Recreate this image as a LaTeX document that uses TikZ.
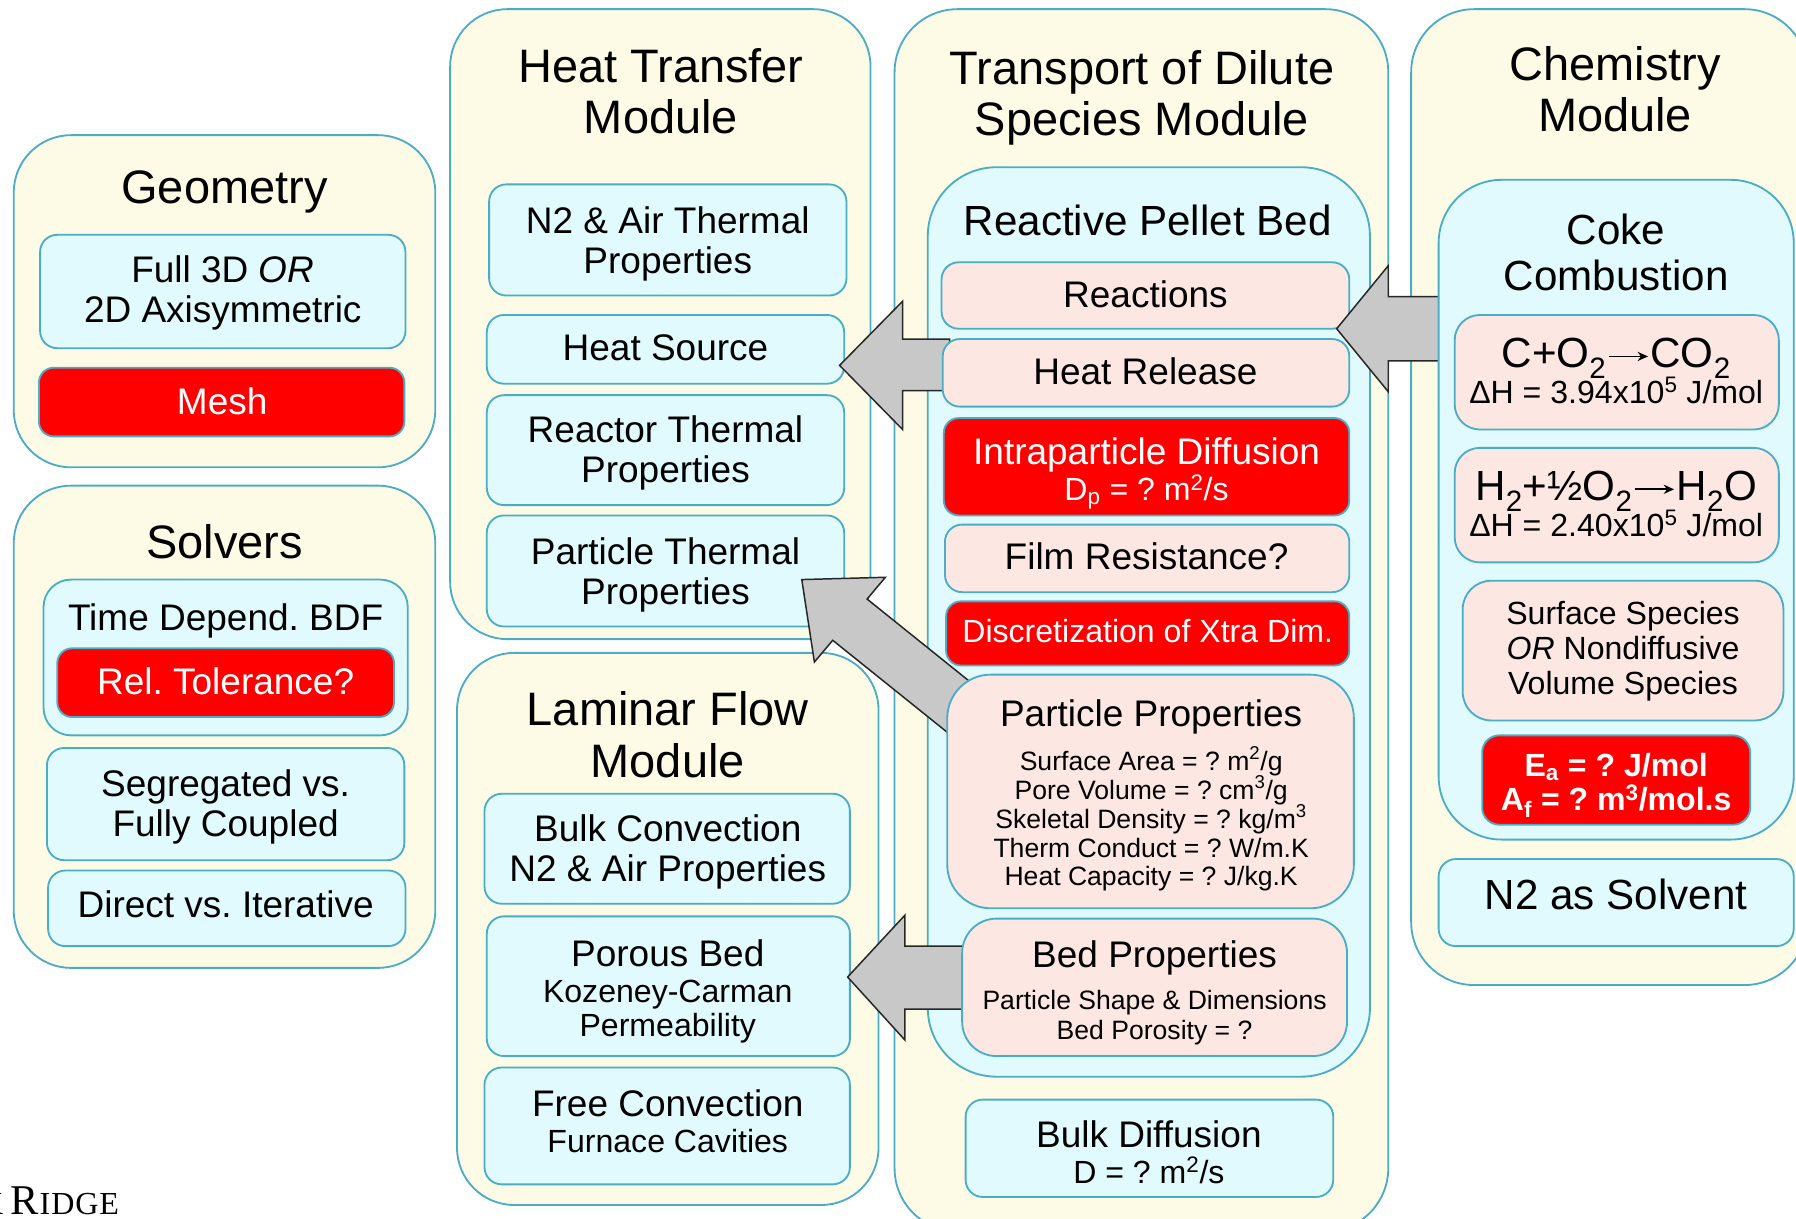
\documentclass[tikz,border=0pt]{standalone}
\usepackage{fontspec}
\setmainfont{Liberation Sans}
\newfontfamily\serifrm{Liberation Serif}
\usetikzlibrary{fit,arrows.meta}
\frenchspacing

\definecolor{modfill}{HTML}{FDFBE6}
\definecolor{edge}{HTML}{4BACC6}
\definecolor{cyanfill}{HTML}{E0FAFD}
\definecolor{pinkfill}{HTML}{FDE7E3}
\definecolor{alert}{HTML}{FF0000}
\definecolor{arrowgray}{HTML}{C8C8C8}

% font sizes
\newcommand\fT{\fontsize{41}{45}\selectfont}
\newcommand\fG{\fontsize{36.8}{40}\selectfont}
\newcommand\fB{\fontsize{32.3}{35}\selectfont}
\newcommand\fS{\fontsize{28}{30.5}\selectfont}
\newcommand\fX{\fontsize{23.2}{25.3}\selectfont}
% long reaction arrow for the equations
\newcommand\yields{\kern1.5pt\tikz[baseline=-10pt]\draw[line width=1.5pt,
  -{Stealth[length=9pt,width=8pt]}] (0pt,0pt) -- (34pt,0pt);\kern1.5pt}

\tikzset{
  box/.style={draw=edge, line width=1.6pt, rectangle, inner sep=0pt},
  module/.style={box, fill=modfill, rounded corners=50pt},
  group/.style={box, fill=cyanfill, rounded corners=52pt},
  item/.style={box, fill=cyanfill, rounded corners=15pt},
  pitem/.style={box, fill=pinkfill, rounded corners=15pt},
  ritem/.style={box, fill=alert, rounded corners=13pt},
  flow/.style={draw=black!85, line width=1.3pt, fill=arrowgray, line join=miter},
  txt/.style={anchor=base, inner sep=0pt, text=black},
  wtxt/.style={anchor=base, inner sep=0pt, text=white},
}

\begin{document}
\begin{tikzpicture}[x=1pt,y=-1pt]
\useasboundingbox (0,0) rectangle (1568,1064);
\clip (0,0) rectangle (1568,1064);
\fill[white] (0,0) rectangle (1568,1064);

% ---------- module frames ----------
\node[module, fit={(12,118) (380,408)}] (geo) {};
\node[module, fit={(12,424) (380,845)}] (sol) {};
\node[module, fit={(393,8) (760,558)}] (ht) {};
\node[module, fit={(399,570) (767,1052)}] (lf) {};
\node[module, rounded corners=55pt, fit={(781,8) (1212,1075)}] (tds) {};
\node[module, rounded corners=55pt, fit={(1232,8) (1578,860)}] (chem) {};

% ---------- Geometry ----------
\node[txt, font=\fT] (geoT) at (196,178) {Geometry};
\node[item, fit={(35,205) (354,304)}] (gfull) {};
\node[txt, font=\fB] (gfull1) at (194.5,246.6) {Full 3D \textit{OR}};
\node[txt, font=\fB] (gfull2) at (194.5,281.6) {2D Axisymmetric};
\node[ritem, fit={(34,321) (353,381)}] (gmesh) {};
\node[wtxt, font=\fB] (gmeshT) at (194,361.6) {Mesh};

% ---------- Solvers ----------
\node[txt, font=\fT] (solT) at (196,487.7) {Solvers};
\node[item, rounded corners=24pt, fit={(38,506) (356,642)}] (stime) {};
\node[txt, font=\fB] (stimeT) at (197,550.6) {Time Depend. BDF};
\node[ritem, fit={(50,566) (344,626)}] (srel) {};
\node[wtxt, font=\fB] (srelT) at (197,606.6) {Rel. Tolerance?};
\node[item, fit={(41,653) (353,751)}] (sseg) {};
\node[txt, font=\fB] (sseg1) at (197,695.6) {Segregated vs.};
\node[txt, font=\fB] (sseg2) at (197,730.6) {Fully Coupled};
\node[item, fit={(42,760) (354,826)}] (sdir) {};
\node[txt, font=\fB] (sdirT) at (197,800.6) {Direct vs. Iterative};

% ---------- Heat Transfer ----------
\node[txt, font=\fT] (htT1) at (577,71.7) {Heat Transfer};
\node[txt, font=\fT] (htT2) at (577,116.7) {Module};
\node[item, fit={(427,161) (739,258)}] (hn2) {};
\node[txt, font=\fB] (hn21) at (583,203.6) {N2 \& Air Thermal};
\node[txt, font=\fB] (hn22) at (583,238.6) {Properties};
\node[item, fit={(425,275) (737,335)}] (hsrc) {};
\node[txt, font=\fB] (hsrcT) at (581,314.6) {Heat Source};
\node[item, fit={(425,345) (737,441)}] (hrea) {};
\node[txt, font=\fB] (hrea1) at (581,386.6) {Reactor Thermal};
\node[txt, font=\fB] (hrea2) at (581,421.6) {Properties};
\node[item, fit={(425,450) (737,547)}] (hpar) {};
\node[txt, font=\fB] (hpar1) at (581,492.6) {Particle Thermal};
\node[txt, font=\fB] (hpar2) at (581,527.6) {Properties};

% ---------- Laminar Flow ----------
\node[txt, font=\fT] (lfT1) at (583,633.7) {Laminar Flow};
\node[txt, font=\fT] (lfT2) at (583,678.7) {Module};
\node[item, fit={(423,693) (742,789)}] (lbulk) {};
\node[txt, font=\fB] (lbulk1) at (583,734.6) {Bulk Convection};
\node[txt, font=\fB] (lbulk2) at (583,769.6) {N2 \& Air Properties};
\node[item, fit={(425,800) (742,922)}] (lpor) {};
\node[txt, font=\fB] (lpor1) at (583,843.6) {Porous Bed};
\node[txt, font=\fS] (lpor2) at (583,875) {Kozeney-Carman};
\node[txt, font=\fS] (lpor3) at (583,905) {Permeability};
\node[item, fit={(423,932) (742,1034)}] (lfree) {};
\node[txt, font=\fB] (lfree1) at (583,974.6) {Free Convection};
\node[txt, font=\fS] (lfree2) at (583,1006) {Furnace Cavities};

% ---------- Transport of Dilute Species ----------
\node[txt, font=\fT] (tdsT1) at (997,73.7) {Transport of Dilute};
\node[txt, font=\fT] (tdsT2) at (997,118.7) {Species Module};
\node[group, rounded corners=60pt, fit={(810,146) (1196,940)}] (rpb) {};
\node[txt, font=\fG] (rpbT) at (1002,205.2) {Reactive Pellet Bed};

% ---------- Chemistry frame ----------
\node[txt, font=\fT] (chemT1) at (1410,70.7) {Chemistry};
\node[txt, font=\fT] (chemT2) at (1410,114.7) {Module};

% ---------- coupling arrows into Heat Transfer and Laminar Flow ----------
\path[flow] (733,319) -- (788,263) -- (788,296) -- (829,296) -- (829,341)
  -- (788,341) -- (788,375) -- cycle;
\path[flow] (740,853) -- (790,799) -- (790,826) -- (846,826) -- (846,881)
  -- (790,881) -- (790,908) -- cycle;
\path[flow] (700,506) -- (773,504) -- (757,523) -- (874,617) -- (844,653)
  -- (727,559) -- (711,578) -- cycle;

% ---------- Reactive Pellet Bed contents ----------
\node[pitem, fit={(822,229) (1178,287)}] (treac) {};
\node[txt, font=\fB] (treacT) at (1000,268.6) {Reactions};
\node[pitem, fit={(823,296) (1178,355)}] (theat) {};
\node[txt, font=\fB] (theatT) at (1000,335.6) {Heat Release};
\node[ritem, fit={(824,365) (1178,450)}] (tintra) {};
\node[wtxt, font=\fB] (tintra1) at (1001,405.6) {Intraparticle Diffusion};
\node[wtxt, font=\fS] (tintra2) at (1001,437) {D\textsubscript{p} = ? m\textsuperscript{2}/s};
\node[pitem, fit={(825,458) (1178,517)}] (tfilm) {};
\node[txt, font=\fB] (tfilmT) at (1001,497.6) {Film Resistance?};
\node[ritem, fit={(826,525) (1178,581)}] (tdisc) {};
\node[wtxt, font=\fS] (tdiscT) at (1002,561) {Discretization of Xtra Dim.};
\node[pitem, rounded corners=38pt, fit={(827,589) (1182,793)}] (tpart) {};
\node[txt, font=\fB] (tpartT) at (1005,634.6) {Particle Properties};
\node[txt, font=\fX] (tpart1) at (1005,672.3) {Surface Area = ? m\textsuperscript{2}/g};
\node[txt, font=\fX] (tpart2) at (1005,697.6) {Pore Volume = ? cm\textsuperscript{3}/g};
\node[txt, font=\fX] (tpart3) at (1005,722.9) {Skeletal Density = ? kg/m\textsuperscript{3}};
\node[txt, font=\fX] (tpart4) at (1005,748.2) {Therm Conduct = ? W/m.K};
\node[txt, font=\fX] (tpart5) at (1005,773.5) {Heat Capacity = ? J/kg.K};
\node[pitem, rounded corners=30pt, fit={(840,802) (1176,922)}] (tbed) {};
\node[txt, font=\fB] (tbedT) at (1008,844.6) {Bed Properties};
\node[txt, font=\fX] (tbed1) at (1008,881.3) {Particle Shape \& Dimensions};
\node[txt, font=\fX] (tbed2) at (1008,907.3) {Bed Porosity = ?};
\node[item, fit={(843,960) (1164,1045)}] (tbulk) {};
\node[txt, font=\fB] (tbulk1) at (1003,1001.6) {Bulk Diffusion};
\node[txt, font=\fS] (tbulk2) at (1003,1033) {D = ? m\textsuperscript{2}/s};

% ---------- coupling arrow from Chemistry ----------
\path[flow] (1167,287) -- (1212,232) -- (1212,259) -- (1263,259) -- (1263,315)
  -- (1212,315) -- (1212,342) -- cycle;

% ---------- Chemistry contents ----------
\node[group, rounded corners=55pt, fit={(1256,157) (1566,733)}] (coke) {};
\node[txt, font=\fG] (cokeT1) at (1411,213.2) {Coke};
\node[txt, font=\fG] (cokeT2) at (1411,253.2) {Combustion};
\node[pitem, rounded corners=22pt, fit={(1270,275) (1553,375)}] (cco) {};
\node[txt, font=\fG] (cco1) at (1411,321.2) {C+O\textsubscript{2}\yields CO\textsubscript{2}};
\node[txt, font=\fS] (cco2) at (1411,352) {ΔH = 3.94x10\textsuperscript{5} J/mol};
\node[pitem, rounded corners=22pt, fit={(1270,391) (1553,491)}] (ch2) {};
\node[txt, font=\fG] (ch21) at (1411,437.2) {H\textsubscript{2}+½O\textsubscript{2}\yields H\textsubscript{2}O};
\node[txt, font=\fS] (ch22) at (1411,468) {ΔH = 2.40x10\textsuperscript{5} J/mol};
\node[pitem, rounded corners=25pt, fit={(1277,507) (1557,629)}] (csurf) {};
\node[txt, font=\fS] (csurf1) at (1417,545) {Surface Species};
\node[txt, font=\fS] (csurf2) at (1417,576) {\textit{OR} Nondiffusive};
\node[txt, font=\fS] (csurf3) at (1417,606) {Volume Species};
\node[ritem, rounded corners=15pt, fit={(1294,642) (1528,720)}] (cea) {};
\node[wtxt, font=\fS\bfseries] (cea1) at (1411,678) {E\textsubscript{a} = ? J/mol};
\node[wtxt, font=\fS\bfseries] (cea2) at (1411,708) {A\textsubscript{f} = ? m\textsuperscript{3}/mol.s};
\node[item, fit={(1256,750) (1566,826)}] (cn2) {};
\node[txt, font=\fG] (cn2T) at (1411,794.2) {N2 as Solvent};

% ---------- footer logo text ----------
\node[anchor=base east, inner sep=0pt, font=\serifrm\fontsize{28}{28}\selectfont] (logoK) at (3,1060) {K};
\node[anchor=base west, inner sep=0pt] (logo) at (9,1060)
  {\serifrm\fontsize{37}{37}\selectfont R\kern0.8pt\fontsize{28}{28}\selectfont I\kern0.8pt D\kern0.8pt G\kern0.8pt E};
\end{tikzpicture}
\end{document}
